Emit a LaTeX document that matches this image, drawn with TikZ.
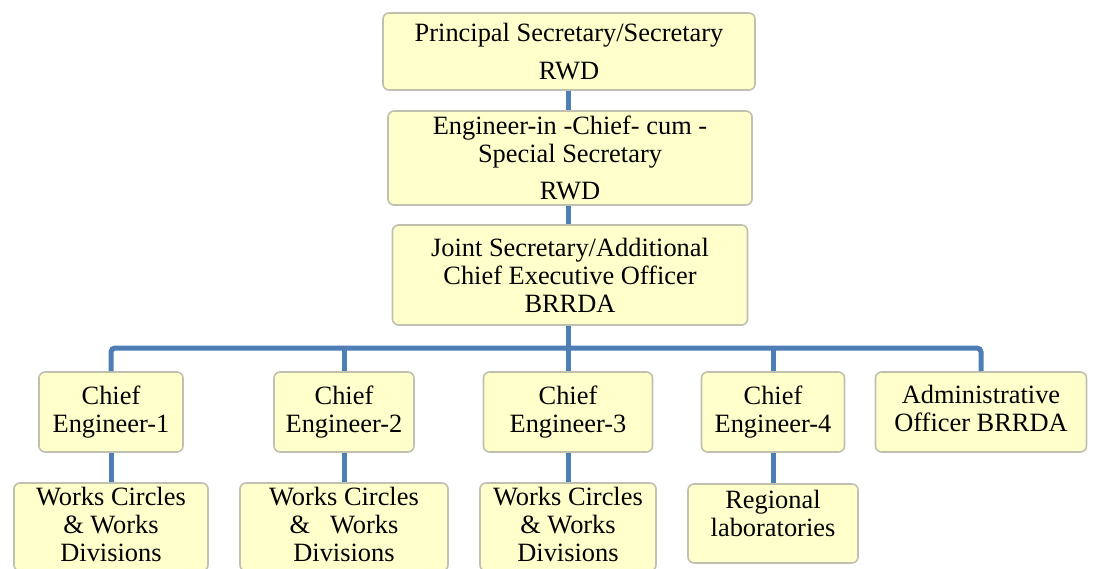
\documentclass[tikz,border=0pt]{standalone}
\usepackage{fontspec}
\setmainfont{Liberation Serif}
\definecolor{boxfill}{RGB}{255,255,204}
\definecolor{boxline}{RGB}{192,192,176}
\definecolor{connblue}{RGB}{79,125,182}
\begin{document}
\begin{tikzpicture}[x=1pt,y=-1pt,
  orgbox/.style={draw=boxline, line width=1.6pt, fill=boxfill, rounded corners=6pt,
    inner sep=0pt, align=center, font=\fontsize{26.4}{28}\selectfont},
  boxtext/.style={inner sep=0pt, align=center, font=\fontsize{26.4}{28}\selectfont},
  conn/.style={draw=connblue, line width=5pt}]
\useasboundingbox (0,0) rectangle (1093,568);
\node[orgbox, minimum width=372, minimum height=77] (b1) at (569,51.5) {Principal Secretary/Secretary\\[10pt]RWD};
\node[orgbox, minimum width=364, minimum height=94] (b2) at (570,158) {Engineer-in -Chief- cum -\\Special Secretary\\[9pt]RWD};
\node[orgbox, minimum width=355, minimum height=100] (b3) at (570,275) {Joint Secretary/Additional\\Chief Executive Officer\\BRRDA};
\node[orgbox, minimum width=144, minimum height=80] (c1) at (111,412) {Chief\\Engineer-1};
\node[orgbox, minimum width=140, minimum height=80] (c2) at (344,412) {Chief\\Engineer-2};
\node[orgbox, minimum width=169, minimum height=80] (c3) at (568,412) {Chief\\Engineer-3};
\node[orgbox, minimum width=143, minimum height=80] (c4) at (773,412) {Chief\\Engineer-4};
\node[orgbox, minimum width=211, minimum height=80] (c5) at (981,412) {};
\node[boxtext] (c5t) at ([yshift=4pt]c5.center) {Administrative\\Officer BRRDA};
\node[orgbox, minimum width=194, minimum height=88] (w1) at (111,527) {};
\node[boxtext] (w1t) at ([yshift=2.5pt]w1.center) {Works Circles\\\& Works\\Divisions};
\node[orgbox, minimum width=208, minimum height=88] (w2) at (344,527) {};
\node[boxtext] (w2t) at ([yshift=2.5pt]w2.center) {Works Circles\\\&\ \ \ Works\\Divisions};
\node[orgbox, minimum width=176, minimum height=88] (w3) at (568,527) {};
\node[boxtext] (w3t) at ([yshift=2.5pt]w3.center) {Works Circles\\\& Works\\Divisions};
\node[orgbox, minimum width=170, minimum height=79] (r4) at (773,523.5) {};
\node[boxtext] (r4t) at ([yshift=10pt]r4.center) {Regional\\laboratories};
\coordinate (bar) at (0,348);
\draw[conn] (b1.south -| c3.north) -- (b2.north -| c3.north);
\draw[conn] (b2.south -| c3.north) -- (b3.north -| c3.north);
\draw[conn] (b3.south -| c3.north) -- (c3.north);
\draw[conn, rounded corners=4pt] (c1.north) -- (c1.north |- bar) -| (c5.north);
\draw[conn] (c2.north) -- (c2.north |- bar);
\draw[conn] (c4.north) -- (c4.north |- bar);
\draw[conn] (c1.south) -- (w1.north);
\draw[conn] (c2.south) -- (w2.north);
\draw[conn] (c3.south) -- (w3.north);
\draw[conn] (c4.south) -- (r4.north);
\end{tikzpicture}
\end{document}
